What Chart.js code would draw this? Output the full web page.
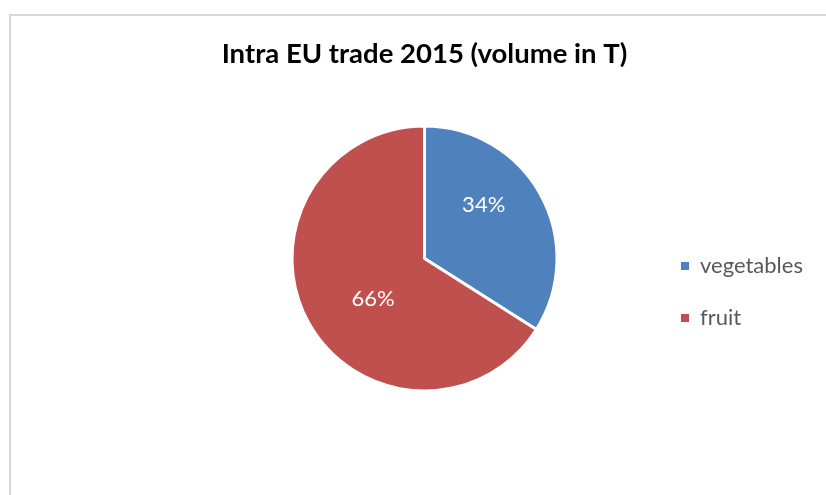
<!DOCTYPE html>
<html>
<head>
<meta charset="utf-8">
<script src="https://cdn.jsdelivr.net/npm/chart.js@4"></script>
<style>
  html, body { margin: 0; padding: 0; background: #fff; }
  #frame { position: absolute; left: 9px; top: 14px; width: 900px; height: 600px;
           border-left: 2px solid #d9d9d9; border-top: 2px solid #d9d9d9; }
  #wrap { position: absolute; left: 0; top: 0; width: 826px; height: 495px; }
</style>
</head>
<body>
<div id="frame"></div>
<div id="wrap"><canvas id="pieChart" width="826" height="495"></canvas></div>
<script>
    const categories = ['vegetables', 'fruit'];
    const shares = [34, 66];
    const sliceColors = ['#4F81BD', '#C0504D'];
    const chartTitle = 'Intra EU trade 2015 (volume in T)';

    (function () {
        const canvas = document.getElementById('pieChart');
        const ctx = canvas.getContext('2d');

        const fontFamily = 'Lato, "Liberation Sans", sans-serif';
        const legendFontSize = 22;
        const legendPad = 30;
        const legendBox = 8;
        const boxX = 681;
        const pieCx = 424.5;
        const titleSize = 27.5;

        // work out the right padding so the legend box lands where it should
        ctx.font = legendFontSize + 'px ' + fontFamily;
        const textW = Math.max(...categories.map(c => ctx.measureText(c).width));
        const legendLeft = boxX - legendPad;
        const legendWidth = legendPad + legendBox + legendFontSize / 2 + textW + 10;
        const padLeft = 2 * pieCx - legendLeft;
        const padRight = 826 - legendLeft - legendWidth;

        const titleLine = titleSize * 1.2;
        const titleTop = 54 - titleLine / 2;
        const titleBottom = 158 - titleTop - titleLine;

        // per-slice label placement (angle shift in degrees, radius fraction)
        const labelSpots = [[-13.4, 0.61], [-9.4, 0.5]];

        const sliceLabels = {
            id: 'sliceLabels',
            afterDatasetsDraw(chart) {
                const meta = chart.getDatasetMeta(0);
                const c = chart.ctx;
                c.save();
                c.fillStyle = '#ffffff';
                c.font = '22px ' + fontFamily;
                c.textAlign = 'center';
                c.textBaseline = 'middle';
                meta.data.forEach((arc, i) => {
                    const p = arc.getProps(['x', 'y', 'startAngle', 'endAngle', 'outerRadius'], true);
                    const spot = labelSpots[i] || [0, 0.5];
                    const a = (p.startAngle + p.endAngle) / 2 + spot[0] * Math.PI / 180;
                    const r = (p.outerRadius - 1.5) * spot[1];
                    c.fillText(shares[i] + '%', p.x + Math.cos(a) * r, p.y + Math.sin(a) * r);
                });
                c.restore();
            }
        };

        new Chart(ctx, {
            type: 'pie',
            data: {
                labels: categories,
                datasets: [{
                    data: shares,
                    backgroundColor: sliceColors,
                    borderColor: '#ffffff',
                    borderWidth: 3,
                    radius: 132.5,
                    clip: false
                }]
            },
            options: {
                responsive: false,
                animation: false,
                events: [],
                layout: { padding: { top: 0, bottom: 136, left: padLeft, right: padRight } },
                plugins: {
                    title: {
                        display: true,
                        text: chartTitle,
                        fullSize: false,
                        color: '#000000',
                        font: { family: fontFamily, size: titleSize, weight: 'bold', lineHeight: 1.2 },
                        padding: { top: titleTop, bottom: titleBottom }
                    },
                    legend: {
                        position: 'right',
                        align: 'end',
                        labels: {
                            boxWidth: legendBox,
                            boxHeight: legendBox,
                            padding: legendPad,
                            color: '#595959',
                            font: { family: fontFamily, size: legendFontSize },
                            generateLabels(chart) {
                                const items = Chart.overrides.pie.plugins.legend.labels.generateLabels(chart);
                                items.forEach(it => { it.lineWidth = 0; it.strokeStyle = it.fillStyle; });
                                return items;
                            }
                        }
                    },
                    tooltip: { enabled: false }
                }
            },
            plugins: [sliceLabels]
        });
    })();
</script>
</body>
</html>
